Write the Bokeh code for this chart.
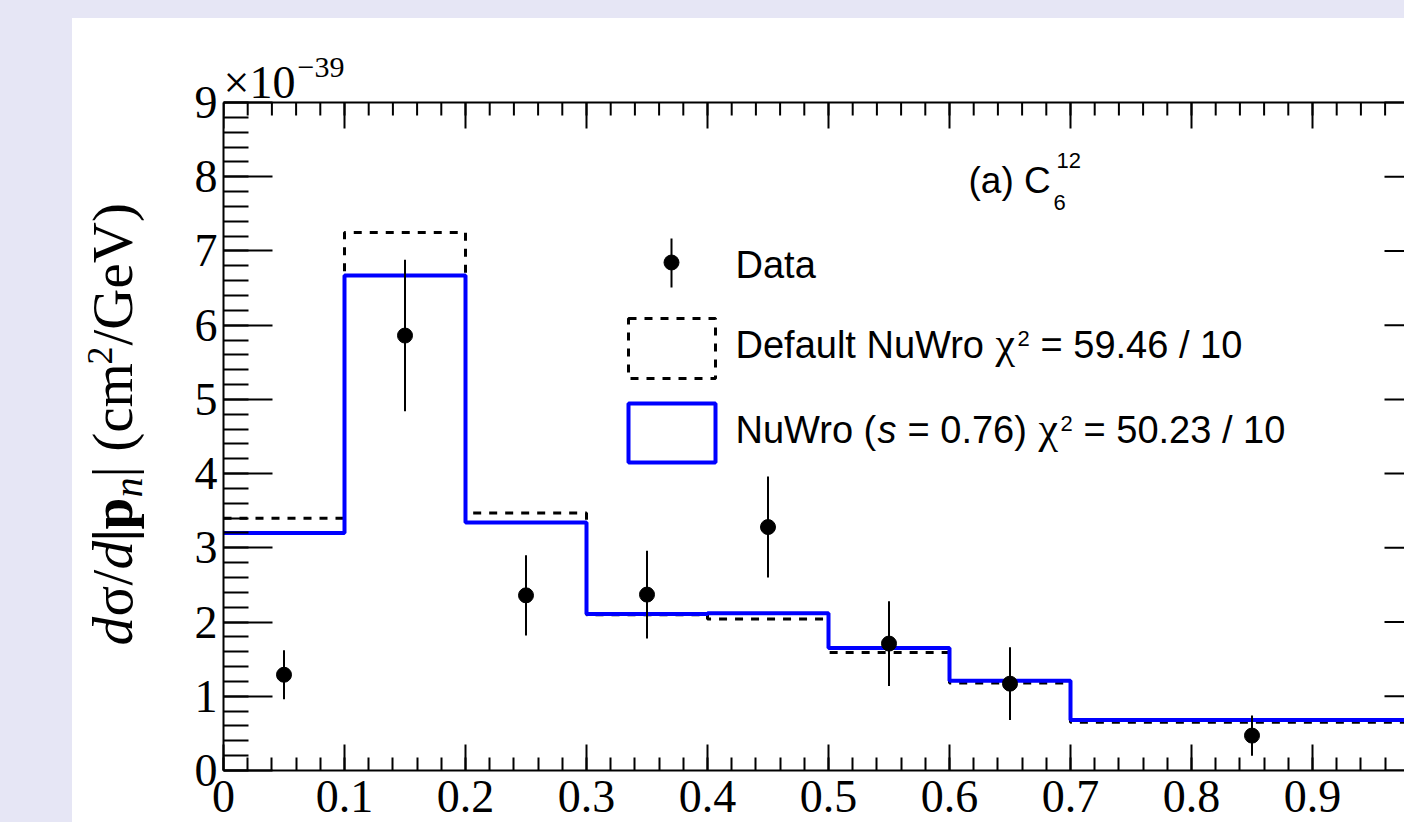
import math
from bokeh.plotting import figure
from bokeh.layouts import row
from bokeh.models import Range1d, LinearAxis, FixedTicker, Label, BoxAnnotation
from bokeh.embed import file_html
from bokeh.resources import INLINE

# ---------------- data ----------------
bin_edges = [0.0, 0.1, 0.2, 0.3, 0.4, 0.5, 0.6, 0.7, 1.0]
data_x = [0.05, 0.15, 0.25, 0.35, 0.45, 0.55, 0.65, 0.85]
data_y = [1.29, 5.86, 2.36, 2.37, 3.28, 1.71, 1.17, 0.47]
data_err = [0.33, 1.02, 0.54, 0.59, 0.68, 0.57, 0.49, 0.27]
default_nuwro = [3.40, 7.25, 3.47, 2.10, 2.04, 1.59, 1.18, 0.65]
nuwro_s076 = [3.20, 6.67, 3.34, 2.11, 2.12, 1.65, 1.21, 0.68]

x_tick_values = [0.0, 0.1, 0.2, 0.3, 0.4, 0.5, 0.6, 0.7, 0.8, 0.9]
x_tick_labels = ["0", "0.1", "0.2", "0.3", "0.4", "0.5", "0.6", "0.7", "0.8", "0.9"]
y_tick_values = [0, 1, 2, 3, 4, 5, 6, 7, 8, 9]
y_tick_labels = ["0", "1", "2", "3", "4", "5", "6", "7", "8", "9"]
x_minor = [round(i * 0.02, 4) for i in range(51)]
y_minor = [round(i * 0.2, 4) for i in range(46)]
X_MIN, X_MAX, Y_MIN, Y_MAX = 0.0, 1.0, 0.0, 9.0

legend_texts = ["Data", "Default NuWro", "NuWro ("]

# ---------------- page geometry (pixels) ----------------
PAD_L, PAD_T = 72, 18          # white panel starts here
LEFT_W = 116                   # strip holding the y-axis title
FL, FB, AXT = 223, 770, 102    # x=0 column, y=0 row, y=9 row
FT = PAD_T                     # frame top = top of white panel
FW = 1210                      # pixels for x in [0, 1]
PXY = (FB - AXT) / (Y_MAX - Y_MIN)
B_L = FL - (PAD_L + LEFT_W)
B_R, B_B = 20, 70
Y_TOP = Y_MIN + (FB - FT) / PXY

def dx(px):
    return X_MIN + (px - FL) / FW * (X_MAX - X_MIN)

def dy(py):
    return Y_MIN + (FB - py) / PXY

BG = "#e6e6f5"
SANS, SERIF = "Liberation Sans", "Liberation Serif"
MID = {SANS: 0.347, SERIF: 0.338}   # baseline -> middle of text box, in em

# ---------------- main figure ----------------
p = figure(width=B_L + FW + B_R, height=(FB - FT) + B_B,
           x_range=Range1d(X_MIN, X_MAX), y_range=Range1d(Y_MIN, Y_TOP),
           x_axis_type=None, y_axis_type=None,
           output_backend="svg", toolbar_location=None,
           min_border_left=B_L, min_border_right=B_R,
           min_border_top=0, min_border_bottom=B_B)
p.title.visible = False
p.outline_line_color = None
p.background_fill_color = "white"
p.border_fill_color = "white"
p.grid.visible = False

xt = FixedTicker(ticks=x_tick_values, minor_ticks=x_minor)
yt = FixedTicker(ticks=y_tick_values, minor_ticks=y_minor)

def style_axis(ax, major_in, minor_in):
    ax.axis_line_color = "black"
    ax.axis_line_width = 2
    ax.major_tick_line_width = 2
    ax.minor_tick_line_width = 2
    ax.major_tick_in = major_in
    ax.major_tick_out = 0
    ax.minor_tick_in = minor_in
    ax.minor_tick_out = 0
    ax.major_label_text_font = SERIF
    ax.major_label_text_font_size = "46px"
    ax.major_label_text_color = "black"

bottom = LinearAxis(ticker=xt, major_label_overrides=dict(zip(x_tick_values, x_tick_labels)))
style_axis(bottom, 26, 13)
bottom.major_label_standoff = 10
p.add_layout(bottom, "below")

left = LinearAxis(ticker=yt, bounds=(Y_MIN, Y_MAX),
                  major_label_overrides=dict(zip(y_tick_values, y_tick_labels)))
style_axis(left, 49, 25)
left.major_label_standoff = 6
p.add_layout(left, "left")

# top frame line and mirrored ticks on the top and right edges (no labels)
p.segment(x0=[X_MIN], y0=[Y_MAX], x1=[X_MAX], y1=[Y_MAX], line_color="black", line_width=2)
tmaj, tmin = 26 / PXY, 13 / PXY
p.segment(x0=x_tick_values, y0=[Y_MAX] * len(x_tick_values), x1=x_tick_values,
          y1=[Y_MAX - tmaj] * len(x_tick_values), line_color="black", line_width=2)
p.segment(x0=x_minor, y0=[Y_MAX] * len(x_minor), x1=x_minor,
          y1=[Y_MAX - tmin] * len(x_minor), line_color="black", line_width=2)
rmaj, rmin = 49 / FW * (X_MAX - X_MIN), 25 / FW * (X_MAX - X_MIN)
p.segment(x0=[X_MAX] * len(y_tick_values), y0=y_tick_values, x1=[X_MAX - rmaj] * len(y_tick_values),
          y1=y_tick_values, line_color="black", line_width=2)
p.segment(x0=[X_MAX] * len(y_minor), y0=y_minor, x1=[X_MAX - rmin] * len(y_minor),
          y1=y_minor, line_color="black", line_width=2)

# ---------------- histograms ----------------
p.step(x=bin_edges, y=default_nuwro + [default_nuwro[-1]], mode="after",
       line_color="black", line_width=3, line_dash="8 8")
p.step(x=bin_edges, y=nuwro_s076 + [nuwro_s076[-1]], mode="after",
       line_color="#0000ff", line_width=4)

# ---------------- data points ----------------
p.segment(x0=data_x, y0=[y - e for y, e in zip(data_y, data_err)],
          x1=data_x, y1=[y + e for y, e in zip(data_y, data_err)],
          line_color="black", line_width=2)
p.scatter(x=data_x, y=data_y, size=15, marker="circle", color="black")

# ---------------- text helpers ----------------
def lab(fig, tx, ty, text, size, font=SANS, style="normal", angle=0.0):
    l = Label(x=tx, y=ty, text=text, text_font=font,
              text_font_size=f"{size}px", text_font_style=style,
              text_color="black", text_align="left", text_baseline="middle",
              angle=angle, angle_units="rad")
    fig.add_layout(l)
    return l

def plab(text, px, base_py, size, font=SANS, **kw):
    # px: left edge, base_py: baseline row (page pixels)
    mid_py = base_py - MID[font] * size
    return lab(p, dx(px), dy(mid_py), text, size, font=font, **kw)

# exponent of the y axis
plab("\u00d710", 223, 98, 46, font=SERIF)
plab("\u221239", 297, 77, 30, font=SERIF)

# panel label
plab("(a) C", 968, 193, 37)
plab("12", 1056, 168, 22)
plab("6", 1053, 210, 22)

# ---------------- legend ----------------
p.segment(x0=[dx(671)], y0=[dy(238)], x1=[dx(671)], y1=[dy(287)], line_color="black", line_width=2)
p.scatter(x=[dx(671)], y=[dy(262)], size=15, marker="circle", color="black")
p.add_layout(BoxAnnotation(left=dx(628), right=dx(715), top=dy(318), bottom=dy(378),
                           fill_color=None, fill_alpha=0, line_color="black", line_alpha=1,
                           line_width=3, line_dash="8 8"))
p.add_layout(BoxAnnotation(left=dx(628), right=dx(715), top=dy(403), bottom=dy(462),
                           fill_color=None, fill_alpha=0, line_color="#0000ff", line_alpha=1,
                           line_width=4))

plab(legend_texts[0], 735, 278, 38)
plab(legend_texts[1], 735, 358, 38)
plab("\u03c7", 995, 358, 44, font=SERIF)
plab("2", 1017, 346, 22)
plab("= 59.46 / 10", 1040, 358, 38)

plab(legend_texts[2], 735, 443, 38)
plab("s", 877, 443, 38, style="italic")
plab("= 0.76)", 907, 443, 38)
plab("\u03c7", 1038, 443, 44, font=SERIF)
plab("2", 1060, 431, 22)
plab("= 50.23 / 10", 1083, 443, 38)

# ---------------- y-axis title strip ----------------
pl = figure(width=LEFT_W, height=(FB - FT) + B_B,
            x_range=Range1d(0, LEFT_W), y_range=Range1d(0, FB - FT),
            x_axis_type=None, y_axis_type=None,
            output_backend="svg", toolbar_location=None,
            min_border_left=0, min_border_right=0, min_border_top=0, min_border_bottom=B_B)
pl.title.visible = False
pl.outline_line_color = None
pl.background_fill_color = "white"
pl.border_fill_color = "white"
pl.grid.visible = False

def llab(text, base_px, start_py, size, font=SERIF, **kw):
    # rotated text: base_px is the baseline column, start_py the start row
    mid_px = base_px - MID[font] * size
    return lab(pl, mid_px - PAD_L, FB - start_py, text, size, font=font, **kw)

A = math.pi / 2
BX = 131
TS = 57
llab("d", BX, 645, TS, style="italic", angle=A)
llab("\u03c3", BX, 616, TS, angle=A)
llab("/", BX, 585, TS, angle=A)
llab("d", BX, 569, TS, style="italic", angle=A)
llab("|", BX, 541, TS, style="bold", angle=A)
llab("p", BX, 529, TS, style="bold", angle=A)
llab("n", BX + 11, 497, 40, style="italic", angle=A)
llab("| (cm", BX, 477, TS, angle=A)
llab("2", BX - 19, 364, 36, angle=A)
llab("/GeV)", BX, 345, TS, angle=A)

layout = row(pl, p)
layout.margin = (PAD_T, 0, 0, PAD_L)
layout.styles = {"background-color": "white"}

html = file_html(layout, INLINE, title="plot")
html = html.replace("</head>",
                    "<style>html,body{margin:0;padding:0;overflow:hidden;background:%s;}</style></head>" % BG, 1)
open("out.html", "w").write(html)
